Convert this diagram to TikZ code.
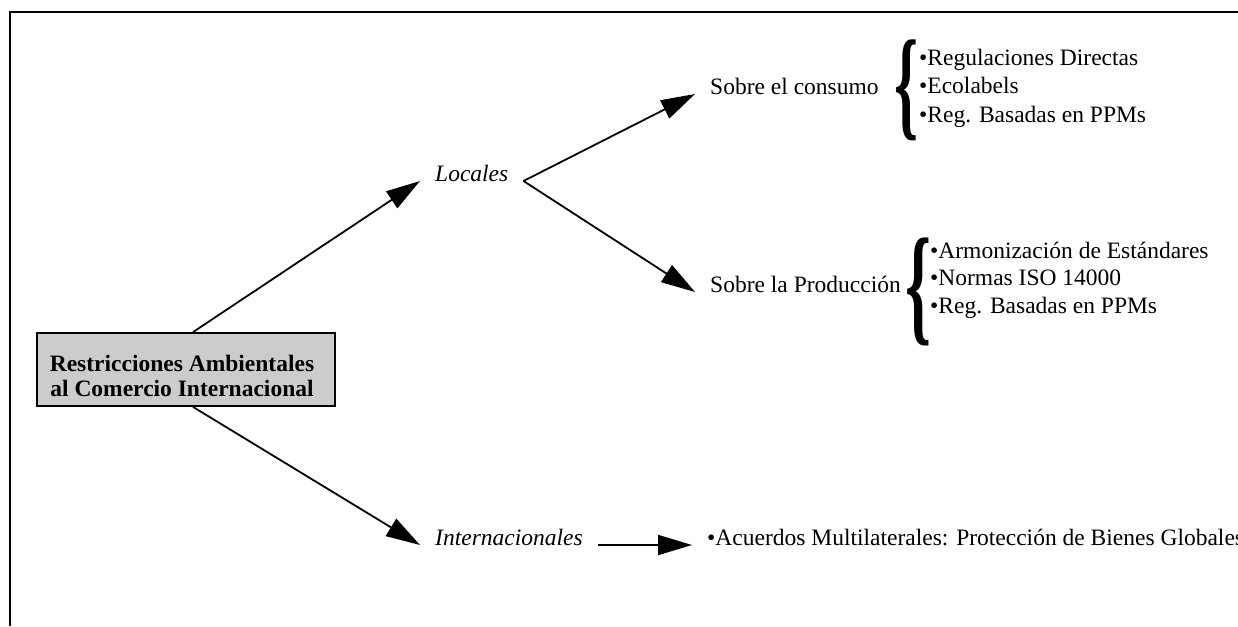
\documentclass[tikz,border=0pt]{standalone}
\usepackage{fontspec}
\setmainfont{Liberation Serif}
\usepackage{graphicx}
\usetikzlibrary{arrows.meta}

\tikzset{
  flecha/.style={line width=1.8pt, -{Triangle[length=34pt,width=20pt]}},
  caja/.style={draw, line width=1.8pt, fill=black!20, minimum width=298pt, minimum height=73pt},
  titulo/.style={inner sep=0pt, align=center, font=\fontsize{23.5}{25}\selectfont\bfseries},
  rama/.style={inner xsep=15pt, inner ysep=2pt, anchor=base west, font=\fontsize{23.5}{28}\selectfont},
  item/.style={inner sep=0pt, anchor=base west, font=\fontsize{23.5}{28}\selectfont},
  llave/.style={inner sep=0pt, font=\fontsize{40}{40}\selectfont\bfseries}
}

\begin{document}
\begin{tikzpicture}[x=1pt, y=-1pt]
  \useasboundingbox (0,0) rectangle (1238,626);
  % marco
  \draw[line width=2pt] (1238,12) -- (10,12) -- (10,626);
  % caja principal
  \node[caja] (raiz) at (186,369.5) {};
  \node[titulo] (tit) at (182,376) {Restricciones Ambientales\\al Comercio Internacional};
  % primer nivel
  \node[rama] (loc) at (420,181) {\textit{Locales}};
  \node[rama] (int) at (420,545) {\textit{Internacionales}};
  \draw[flecha] ([xshift=7pt]raiz.north) -- (loc.base west);
  \draw[flecha] ([xshift=7pt]raiz.south) -- (int.base west);
  % segundo nivel
  \node[rama] (cons) at (695,94) {Sobre el consumo};
  \node[rama] (prod) at (695,292) {Sobre la Producción};
  \node[rama] (acu) at (692,545) {•Acuerdos Multilaterales: Protección de Bienes Globales};
  \draw[flecha] (loc.base east) -- (cons.base west);
  \draw[flecha] (loc.base east) -- (prod.base west);
  \draw[flecha] (int.base east) -- (acu.base west);
  % llaves
  \node[llave] (ll1) at (906,90.5) {\resizebox*{24pt}{101pt}{\{}};
  \node[llave] (ll2) at (918,292) {\resizebox*{26pt}{108pt}{\{}};
  % listas
  \foreach \t [count=\i] in {Regulaciones Directas, Ecolabels, Reg. Basadas en PPMs}
    \node[item] (c\i) at (919,{65+28.5*(\i-1)}) {•\t};
  \foreach \t [count=\i] in {Armonización de Estándares, Normas ISO 14000, Reg. Basadas en PPMs}
    \node[item] (p\i) at (930,{258+27.5*(\i-1)}) {•\t};
\end{tikzpicture}
\end{document}
